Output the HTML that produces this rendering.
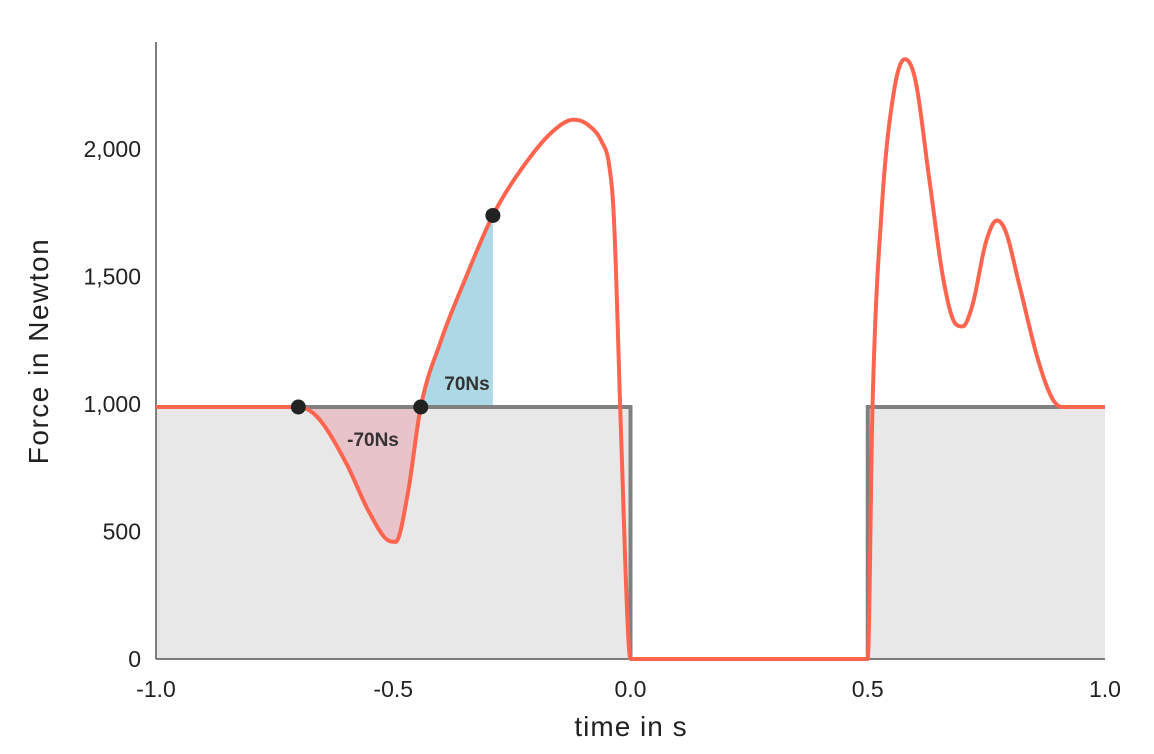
<!DOCTYPE html>
<html><head><meta charset="utf-8"><style>
html,body{margin:0;padding:0;background:#fff;}
svg{display:block;font-family:"Liberation Sans","DejaVu Sans",sans-serif;}
</style></head><body>
<svg id="chart" width="1154" height="754"></svg>
<script>
const times=[-1.0,-0.70,-0.66,-0.60,-0.55,-0.51,-0.495,-0.47,-0.442,-0.40,-0.35,-0.29,-0.22,-0.16,-0.12,-0.09,-0.06,-0.045,-0.035,-0.02,-0.005,0.0,0.5,0.51,0.53,0.555,0.578,0.60,0.63,0.66,0.685,0.70,0.72,0.75,0.772,0.79,0.82,0.86,0.89,0.91,1.0];
const forces=[1000,1000,960,780,580,470,465,650,1000,1260,1500,1760,1970,2100,2140,2120,2050,1960,1750,900,100,0,0,1000,1800,2250,2380,2300,1900,1500,1330,1320,1400,1660,1740,1700,1480,1180,1030,1000,1000];
const xTicks=[-1.0,-0.5,0.0,0.5,1.0];
const xTickLabels=["-1.0","-0.5","0.0","0.5","1.0"];
const yTicks=[0,500,1000,1500,2000];
const yTickLabels=["0","500","1,000","1,500","2,000"];
const baseline=1000;
const stepOffStart=0.0, stepOnStart=0.5;
const negStart=-0.70, negEnd=-0.442, posEnd=-0.29;
const negLabel="-70Ns", posLabel="70Ns";

const NS="http://www.w3.org/2000/svg";
const svg=document.getElementById('chart');
const X=t=>156+(t+1)*474.5;
const Y=f=>659-f*0.252;
function mk(tag,attrs,parent){const e=document.createElementNS(NS,tag);for(const k in attrs)e.setAttribute(k,attrs[k]);(parent||svg).appendChild(e);return e;}

const n=times.length;const d=[],m=new Array(n);
for(let i=0;i<n-1;i++)d.push((forces[i+1]-forces[i])/(times[i+1]-times[i]));
m[0]=d[0];m[n-1]=d[n-2];
for(let i=1;i<n-1;i++){m[i]=(d[i-1]*d[i]<=0)?0:(d[i-1]+d[i])/2;}
for(let i=0;i<n-1;i++){if(d[i]===0){m[i]=0;m[i+1]=0;continue;}const a=m[i]/d[i],b=m[i+1]/d[i],s=a*a+b*b;if(s>9){const t=3/Math.sqrt(s);m[i]=t*a*d[i];m[i+1]=t*b*d[i];}}
function F(t){let i=0;while(i<n-2&&t>times[i+1])i++;const h=times[i+1]-times[i],s=(t-times[i])/h;
const h00=2*s*s*s-3*s*s+1,h10=s*s*s-2*s*s+s,h01=-2*s*s*s+3*s*s,h11=s*s*s-s*s;
return h00*forces[i]+h10*h*m[i]+h01*forces[i+1]+h11*h*m[i+1];}
function curvePts(a,b,N){const p=[];for(let k=0;k<=N;k++){const t=a+(b-a)*k/N;p.push([X(t),Y(F(t))]);}return p;}

mk('path',{d:`M${X(-1)},${Y(baseline)}H${X(stepOffStart)}V${Y(0)}H${X(-1)}Z M${X(stepOnStart)},${Y(baseline)}H${X(1)}V${Y(0)}H${X(stepOnStart)}Z`,fill:'#e8e8e8',});
let pp=curvePts(negStart,negEnd,80);
let pe=mk('path',{d:'M'+pp.map(p=>p.join(',')).join('L')+'Z',fill:'#e8c3ca'});


let bp=curvePts(negEnd,posEnd,60);
let be=mk('path',{d:`M${X(negEnd)},${Y(baseline)}L`+bp.map(p=>p.join(',')).join('L')+`L${X(posEnd)},${Y(baseline)}Z`,fill:'#add8e6'});


mk('path',{d:`M${X(negStart)},${Y(baseline)}H${X(stepOffStart)}V${Y(0)} M${X(stepOnStart)},${Y(0)}V${Y(baseline)}H${X(1)}`,fill:'none',stroke:'#808080','stroke-width':4,});
mk('line',{x1:156,y1:42,x2:156,y2:659,stroke:'#555','stroke-width':1.5,});
mk('line',{x1:156,y1:659,x2:1105,y2:659,stroke:'#555','stroke-width':1.5,});
let cp=curvePts(-1,1,1600);
let ce=mk('path',{d:'M'+cp.map(p=>p[0].toFixed(2)+','+p[1].toFixed(2)).join('L'),fill:'none',stroke:'#ff644e','stroke-width':4,'stroke-linejoin':'round'});


[negStart,negEnd,posEnd].forEach((t,i)=>{
 const c=mk('circle',{cx:X(t),cy:Y(t===posEnd?F(t):baseline),r:7.5,fill:'#222'});
 
 
});
let l1=mk('text',{x:373,y:446,'text-anchor':'middle','font-size':19,'font-weight':'bold',fill:'#333'});l1.textContent=negLabel;


let l2=mk('text',{x:467,y:390,'text-anchor':'middle','font-size':19,'font-weight':'bold',fill:'#333'});l2.textContent=posLabel;


xTicks.forEach((t,i)=>{const e=mk('text',{x:X(t),y:697,'text-anchor':'middle','font-size':23,fill:'#222'});e.textContent=xTickLabels[i];

});
yTicks.forEach((v,i)=>{const e=mk('text',{x:141,y:Y(v)+8-v*0.003,'text-anchor':'end','font-size':23,fill:'#222'});e.textContent=yTickLabels[i];

});
let xt=mk('text',{x:631,y:736,'text-anchor':'middle','font-size':28,'letter-spacing':1,fill:'#222'});xt.textContent='time in s';


let yt=mk('text',{x:0,y:0,'text-anchor':'middle','font-size':28,'letter-spacing':1.5,fill:'#222',transform:'translate(48,351) rotate(-90)'});yt.textContent='Force in Newton';


</script>
</body></html>
